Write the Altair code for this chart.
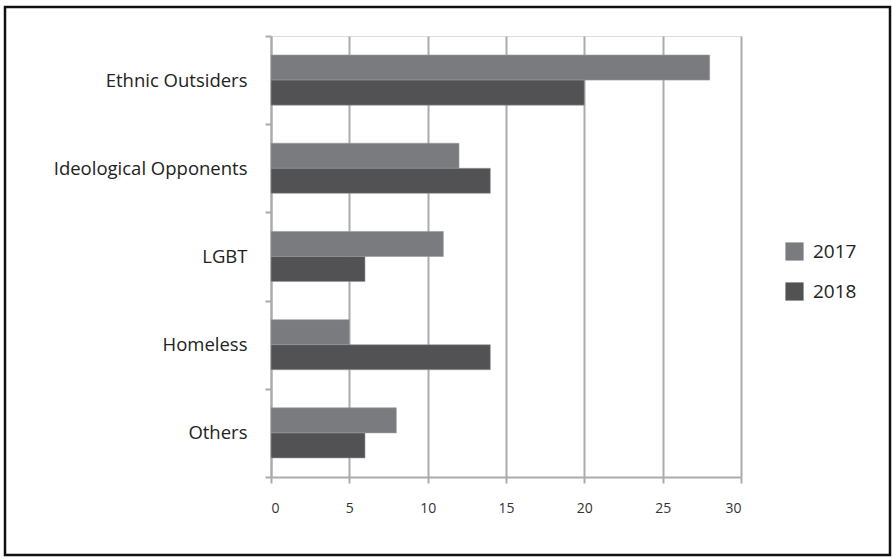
import altair as alt
import pandas as pd

# Victim groups and yearly counts
categories = ["Ethnic Outsiders", "Ideological Opponents", "LGBT", "Homeless", "Others"]
years = ["2017", "2018"]
values_2017 = [28, 12, 11, 5, 8]
values_2018 = [20, 14, 6, 14, 6]
x_ticks = [0, 5, 10, 15, 20, 25, 30]

rows = []
for cat, v17, v18 in zip(categories, values_2017, values_2018):
    rows.append({"group": cat, "year": years[0], "count": v17})
    rows.append({"group": cat, "year": years[1], "count": v18})
df = pd.DataFrame(rows)

FONT = "Open Sans"
GRID = "#ababae"

bars = alt.Chart(df).mark_bar(stroke="#9a9a9c", strokeWidth=0.6).encode(
    x=alt.X(
        "count:Q",
        scale=alt.Scale(domain=[0, 30], nice=False),
        axis=alt.Axis(
            values=x_ticks, title=None, grid=True, gridColor=GRID, gridWidth=2,
            domainColor=GRID, domainWidth=2, tickColor=GRID, tickWidth=2,
            tickSize=6, labelPadding=18, labelFontSize=14, labelColor="#333333",
            labelFont=FONT,
        ),
    ),
    y=alt.Y(
        "group:N",
        sort=categories,
        scale=alt.Scale(paddingInner=0, paddingOuter=0),
        axis=alt.Axis(
            title=None, tickBand="extent", grid=False, domainColor=GRID,
            domainWidth=2, tickColor=GRID, tickWidth=2, tickSize=6,
            labelPadding=18, labelFontSize=18.5, labelColor="#222222",
            labelFont=FONT, labelLimit=400,
        ),
    ),
    yOffset=alt.YOffset("year:N", sort=years, scale=alt.Scale(paddingOuter=0.76, paddingInner=0)),
    color=alt.Color(
        "year:N",
        sort=years,
        scale=alt.Scale(domain=years, range=["#7a7b7e", "#525254"]),
        legend=alt.Legend(
            title=None, orient="none", legendX=514, legendY=206,
            symbolType="square", symbolSize=330, symbolStrokeWidth=0,
            labelFontSize=19, labelFont=FONT, labelColor="#222222",
            rowPadding=20, labelOffset=9,
        ),
    ),
)

# Frame around the whole figure
frame = alt.Chart(alt.Data(values=[{}])).mark_rect(
    fill=None, stroke="#111111", strokeWidth=2.5
).encode(
    x=alt.value(-266), x2=alt.value(619), y=alt.value(-29), y2=alt.value(519)
)

chart = alt.layer(bars, frame).properties(
    width=470,
    height=441,
    autosize=alt.AutoSizeParams(type="none"),
    padding={"left": 271, "top": 36, "right": 152, "bottom": 81},
).configure_view(stroke=None).configure(background="white")

chart.save("out.html", embed_options={"renderer": "svg", "actions": False})
